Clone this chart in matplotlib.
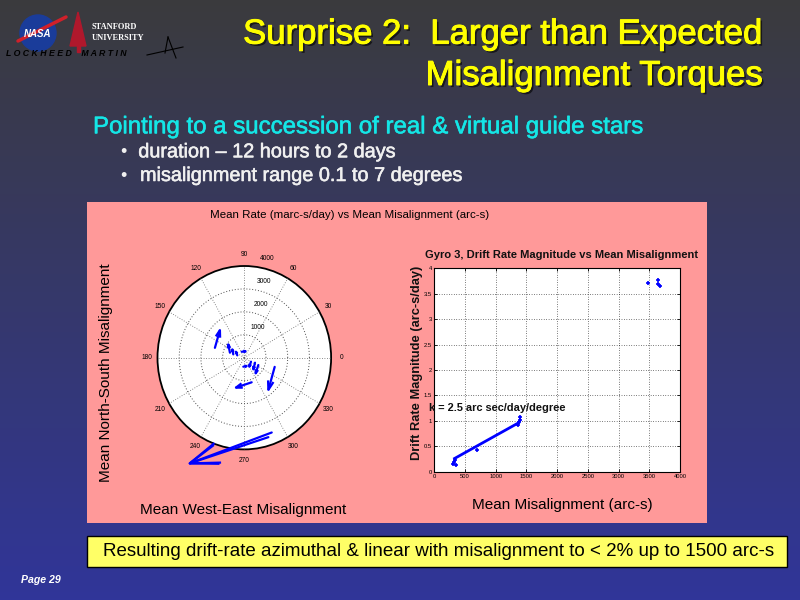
import numpy as np
import matplotlib
matplotlib.use('Agg')
import matplotlib.pyplot as plt
from matplotlib.patches import Rectangle, Circle, Polygon
import matplotlib.patheffects as pe

plt.rcParams['font.family'] = ['Liberation Sans', 'DejaVu Sans']

# ---------------- data ----------------
# compass plot: arrow tails / tips in arc-s (x = west-east, y = north-south)
arrow_tail_we = [-1355, -662, -508, -323, -120, -46, 308, 493, 647, 1400, 339, 1263, 1109]
arrow_tail_ns = [430, 218, 145, 102, 260, -392, -174, -218, -319, -400, -1073, -3263, -3466]
arrow_tip_we = [-1124, -739, -554, -385, 60, 108, 231, 416, 524, 1110, -385, -2515, -2515]
arrow_tip_ns = [1200, 580, 363, 261, 280, -363, -392, -508, -682, -1400, -1305, -4610, -4610]
ring_r = [1000, 2000, 3000, 4000]
ring_labels = ['1000', '2000', '3000', '4000']
spoke_deg = [0, 30, 60, 90, 120, 150, 180, 210, 240, 270, 300, 330]
spoke_labels = ['0', '30', '60', '90', '120', '150', '180', '210', '240', '270', '300', '330']

# drift rate vs misalignment
mis_arcs = [309, 325, 336, 347, 689, 1357, 1384, 1395, 1395, 3484, 3647, 3647, 3674]
drift_rate = [0.16, 0.20, 0.23, 0.13, 0.43, 0.92, 0.98, 1.08, 1.02, 3.72, 3.77, 3.69, 3.66]
fit_x = [330, 1370]
fit_y = [0.26, 0.96]
x_ticks = [0, 500, 1000, 1500, 2000, 2500, 3000, 3500, 4000]
y_ticks = [0, 0.5, 1, 1.5, 2, 2.5, 3, 3.5, 4]

# ---------------- figure ----------------
fig = plt.figure(figsize=(8, 6), dpi=100)
ax_bg = fig.add_axes([0, 0, 1, 1])
top = np.array([0.23, 0.23, 0.24])
bot = np.array([0.19, 0.21, 0.60])
t = np.linspace(0, 1, 300)[:, None, None]
grad = top * (1 - t) + bot * t
grad = np.repeat(grad, 2, axis=1)
ax_bg.imshow(grad, extent=[0, 800, 600, 0], aspect='auto', zorder=0)
ax_bg.set_xlim(0, 800)
ax_bg.set_ylim(600, 0)
ax_bg.axis('off')

# logos (approximate)
ax_bg.add_patch(Circle((38, 33), 18, color='#1a3c9a', zorder=2))
ax_bg.plot([18, 66], [41, 17], color='#d0202a', lw=2.5, zorder=3, solid_capstyle='round')
ax_bg.text(38, 34, 'NASA', color='white', fontsize=7, fontweight='bold', style='italic',
           ha='center', va='center', zorder=4)
ax_bg.add_patch(Polygon([[78, 12], [70, 46], [86, 46]], closed=True, color='#b0182c', zorder=2))
ax_bg.add_patch(Rectangle((76.5, 44), 3, 8, color='#b0182c', zorder=2))
ax_bg.text(92, 27, 'STANFORD', color='white', fontsize=6, fontweight='bold',
           family='Liberation Serif', va='center', ha='left')
ax_bg.text(92, 38, 'UNIVERSITY', color='white', fontsize=6, fontweight='bold',
           family='Liberation Serif', va='center', ha='left')
ax_bg.text(6, 54, 'L O C K H E E D    M A R T I N', color='black', fontsize=6.3,
           fontweight='bold', style='italic', va='center', ha='left')
ax_bg.plot([147, 183], [55, 47], color='black', lw=0.8)
ax_bg.plot([168, 165], [37, 53], color='black', lw=0.8)
ax_bg.plot([168, 176], [37, 58], color='black', lw=0.8)

# title
shadow = [pe.withSimplePatchShadow(offset=(1.5, -1.5), shadow_rgbFace='black', alpha=0.6),
          pe.withStroke(linewidth=0.7, foreground='#ffff00')]
ax_bg.text(763, 43.6, 'Surprise 2:  Larger than Expected', color='#ffff00', fontsize=25,
           ha='right', va='baseline', path_effects=shadow)
ax_bg.text(763, 85, 'Misalignment Torques', color='#ffff00', fontsize=25,
           ha='right', va='baseline', path_effects=shadow)

ax_bg.text(93, 133.3, 'Pointing to a succession of real & virtual guide stars', color='#14e6e6',
           fontsize=17.3, ha='left', va='baseline',
           path_effects=[pe.withStroke(linewidth=0.4, foreground='#14e6e6')])
bullet_fx = [pe.withStroke(linewidth=0.4, foreground='#f0f0f0')]
ax_bg.text(123, 157.3, '\u2022', color='#f0f0f0', fontsize=13, ha='center', va='baseline')
ax_bg.text(138.3, 157.3, 'duration \u2013 12 hours to 2 days', color='#f0f0f0', fontsize=14.3,
           ha='left', va='baseline', path_effects=bullet_fx)
ax_bg.text(123, 181, '\u2022', color='#f0f0f0', fontsize=13, ha='center', va='baseline')
ax_bg.text(140, 181, 'misalignment range 0.1 to 7 degrees', color='#f0f0f0', fontsize=14.3,
           ha='left', va='baseline', path_effects=bullet_fx)

# pink panel
ax_bg.add_patch(Rectangle((87.3, 202.3), 620, 320.4, facecolor='#ff9999', edgecolor='none', zorder=1))
ax_bg.text(349.5, 214.5, 'Mean Rate (marc-s/day) vs Mean Misalignment (arc-s)', fontsize=8.25,
           ha='center', va='center', color='black', zorder=2)
ax_bg.text(106, 372.5, 'Mean North-South Misalignment', fontsize=11, rotation=90,
           ha='center', va='center', color='black', zorder=2)
ax_bg.text(243.3, 510, 'Mean West-East Misalignment', fontsize=11,
           ha='center', va='center', color='black', zorder=2)
ax_bg.text(562, 255, 'Gyro 3, Drift Rate Magnitude vs Mean Misalignment', fontsize=8,
           fontweight='bold', ha='center', va='center', color='#111111', zorder=2)
ax_bg.text(416.7, 363, 'Drift Rate Magnitude (arc-s/day)', fontsize=9.3, fontweight='bold',
           rotation=90, ha='center', va='center', color='#111111', zorder=2)
ax_bg.text(562.5, 505, 'Mean Misalignment (arc-s)', fontsize=11,
           ha='center', va='center', color='black', zorder=2)

# yellow box
ax_bg.add_patch(Rectangle((87.3, 535.7), 700, 31.6, facecolor='#ffff66', edgecolor='black',
                          lw=1, zorder=2))
ax_bg.text(102.7, 551.7,
           'Resulting drift-rate azimuthal & linear with misalignment to < 2% up to 1500 arc-s',
           fontsize=13.5, ha='left', va='center', color='black', zorder=3)
ax_bg.text(20.7, 580, 'Page 29', fontsize=7.6, fontweight='bold', style='italic',
           color='white', ha='left', va='center')

# ---------------- compass (polar) plot ----------------
def fig_rect(x0, y0, x1, y1):
    return [x0 / 800, 1 - y1 / 600, (x1 - x0) / 800, (y1 - y0) / 600]

axp = fig.add_axes(fig_rect(130, 250, 360, 480))
axp.set_xlim(-5267, 5331)
axp.set_ylim(-5335, 4698)
axp.axis('off')
rmax = ring_r[-1]
axp.add_patch(Circle((0, 0), rmax, facecolor='white', edgecolor='black', lw=1.3, zorder=1))
th = np.linspace(0, 2 * np.pi, 400)
for r in ring_r[:-1]:
    axp.plot(r * np.cos(th), r * np.sin(th), color='0.3', lw=0.7, ls=(0, (1, 2)), zorder=2)
for d, lab in zip(spoke_deg, spoke_labels):
    a = np.deg2rad(d)
    axp.plot([0, rmax * np.cos(a)], [0, rmax * np.sin(a)], color='0.4', lw=0.6,
             ls=(0, (1, 2)), zorder=2)
    axp.text(1.12 * rmax * np.cos(a), 1.12 * rmax * np.sin(a), lab, fontsize=4.8,
             ha='center', va='center', color='black')
for r, lab in zip(ring_r, ring_labels):
    axp.text(r * 0.14 + 150, r + 330, lab, fontsize=4.8, ha='left', va='center', color='black',
             zorder=3)

alpha = beta = 0.33
for x0, y0, x1, y1 in zip(arrow_tail_we, arrow_tail_ns, arrow_tip_we, arrow_tip_ns):
    u = x1 - x0
    v = y1 - y0
    axp.plot([x0, x1], [y0, y1], color='#0000ff', lw=1.6, zorder=4, solid_capstyle='round',
             clip_on=False)
    hx = [x1 - alpha * (u + beta * v), x1, x1 - alpha * (u - beta * v)]
    hy = [y1 - alpha * (v - beta * u), y1, y1 - alpha * (v + beta * u)]
    axp.plot(hx, hy, color='#0000ff', lw=1.6, zorder=4, solid_joinstyle='miter', clip_on=False)

# ---------------- drift rate plot ----------------
axr = fig.add_axes(fig_rect(434.3, 268.3, 680, 471.7))
axr.set_facecolor('white')
axr.plot(fit_x, fit_y, color='#0000ff', lw=2, zorder=3)
axr.plot(mis_arcs, drift_rate, ls='none', marker='+', ms=3, mew=1.2, color='#0000ff', zorder=4)
axr.set_xlim(0, 4000)
axr.set_ylim(0, 4)
axr.set_xticks(x_ticks)
axr.set_yticks(y_ticks)
axr.set_xticklabels([f'{v:g}' for v in x_ticks])
axr.set_yticklabels([f'{v:g}' for v in y_ticks])
axr.tick_params(direction='in', length=2, width=0.6, labelsize=4.2, pad=1.5,
                top=True, right=True)
axr.grid(True, color='black', lw=0.5, ls=(0, (1, 2.5)))
for s in axr.spines.values():
    s.set_linewidth(0.8)

fig.text(429, 408, 'k = 2.5 arc sec/day/degree', fontsize=7.9, fontweight='bold',
         color='#111111', ha='left', va='center', transform=ax_bg.transData)

fig.savefig('out.png', dpi=100)
